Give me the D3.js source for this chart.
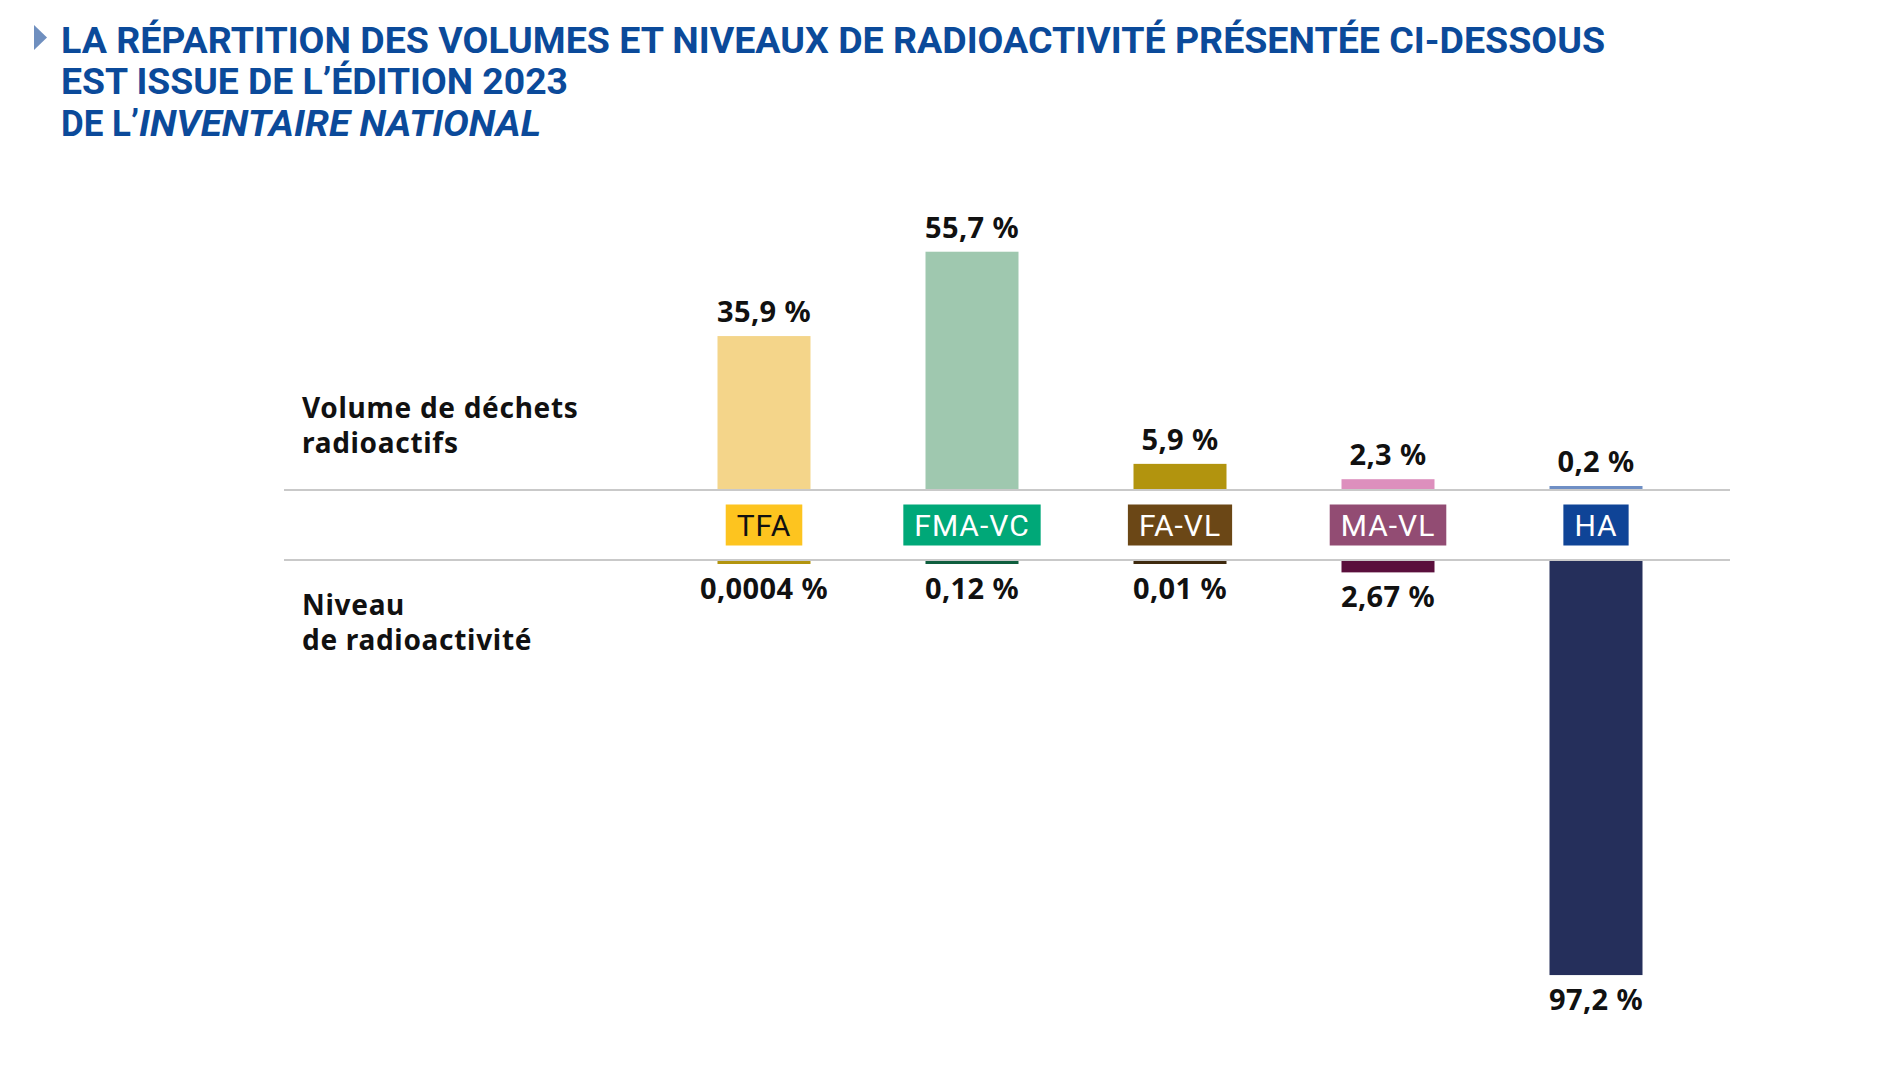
<!DOCTYPE html>
<html>
<head>
<meta charset="utf-8">
<script src="https://cdn.jsdelivr.net/npm/d3@7"></script>
<style>
  body { margin: 0; background: #fff; }
  svg { display: block; }
</style>
</head>
<body>
<div id="chart"></div>
<script>
var width = 1897,
  height = 1068;

// data
var categories = ["TFA", "FMA-VC", "FA-VL", "MA-VL", "HA"];
var volume = [35.9, 55.7, 5.9, 2.3, 0.2];
var volumeLabels = ["35,9 %", "55,7 %", "5,9 %", "2,3 %", "0,2 %"];
var activity = [0.0004, 0.12, 0.01, 2.67, 97.2];
var activityLabels = ["0,0004 %", "0,12 %", "0,01 %", "2,67 %", "97,2 %"];
var boxColors = ["#fdc41f", "#00a878", "#6b4716", "#924c73", "#0f4497"];
var boxText = ["#111", "#fff", "#fff", "#fff", "#fff"];
var topColors = ["#f4d58a", "#9fc8af", "#b2940e", "#dd8fbd", "#6f8fc5"];
var bottomColors = ["#b2940e", "#0e5e3e", "#3f2a0e", "#5a0f3c", "#252f5b"];

var topLine = 490,
  bottomLine = 560,
  barWidth = 93,
  minBar = 3;

var svg = d3.select("#chart").append("svg")
  .attr("width", width)
  .attr("height", height);

svg.append("rect").attr("width", width).attr("height", height).attr("fill", "#fff");

// title
var blue = "#0b4a9a";
svg.append("path")
  .attr("d", "M34,25 L47,37.5 L34,50 Z")
  .attr("fill", "#6f8fbf");

var titleFont = "Roboto, 'Liberation Sans', sans-serif";
svg.append("text")
  .attr("x", 61).attr("y", 53)
  .attr("textLength", 1544).attr("lengthAdjust", "spacingAndGlyphs")
  .style("font-family", titleFont).style("font-weight", 700).style("font-size", "37px")
  .attr("fill", blue)
  .text("LA RÉPARTITION DES VOLUMES ET NIVEAUX DE RADIOACTIVITÉ PRÉSENTÉE CI-DESSOUS");
svg.append("text")
  .attr("x", 61).attr("y", 94)
  .attr("textLength", 507).attr("lengthAdjust", "spacingAndGlyphs")
  .style("font-family", titleFont).style("font-weight", 700).style("font-size", "37px")
  .attr("fill", blue)
  .text("EST ISSUE DE L’ÉDITION 2023");
svg.append("text")
  .attr("x", 61).attr("y", 136)
  .attr("textLength", 78).attr("lengthAdjust", "spacingAndGlyphs")
  .style("font-family", titleFont).style("font-weight", 700).style("font-size", "37px")
  .attr("fill", blue)
  .text("DE L’");
svg.append("text")
  .attr("x", 139).attr("y", 136)
  .attr("textLength", 402).attr("lengthAdjust", "spacingAndGlyphs")
  .style("font-family", titleFont).style("font-weight", 700).style("font-style", "italic").style("font-size", "37px")
  .attr("fill", blue)
  .text("INVENTAIRE NATIONAL");

// scales
var x = d3.scalePoint().domain(categories).range([764, 1596]);
var y = d3.scaleLinear().domain([0, 100]).range([0, 426]);
var idx = d3.range(categories.length);

// guide lines
svg.selectAll(".guide")
  .data([topLine, bottomLine])
  .enter().append("line")
  .attr("class", "guide")
  .attr("x1", 284).attr("x2", 1730)
  .attr("y1", d => d).attr("y2", d => d)
  .attr("stroke", "#c9c9c9").attr("stroke-width", 2);

var labelFont = "'Noto Sans', 'Open Sans', sans-serif";

// row labels
var rows = [
  { lines: ["Volume de déchets", "radioactifs"], y: 418 },
  { lines: ["Niveau", "de radioactivité"], y: 615 }
];
rows.forEach(function (r) {
  r.lines.forEach(function (t, i) {
    svg.append("text")
      .attr("x", 302).attr("y", r.y + i * 35)
      .style("font-family", labelFont).style("font-weight", 700).style("font-size", "28px")
      .style("letter-spacing", "0.7px")
      .attr("fill", "#111")
      .text(t);
  });
});

// volume bars (up)
svg.selectAll(".vol")
  .data(idx)
  .enter().append("rect")
  .attr("class", "vol")
  .attr("x", i => x(categories[i]) - barWidth / 2)
  .attr("width", barWidth)
  .attr("y", i => topLine - 1 - Math.max(minBar, y(volume[i])))
  .attr("height", i => Math.max(minBar, y(volume[i])))
  .attr("fill", i => topColors[i]);

svg.selectAll(".volLabel")
  .data(idx)
  .enter().append("text")
  .attr("class", "volLabel")
  .attr("x", i => x(categories[i]))
  .attr("y", i => topLine - 1 - Math.max(minBar, y(volume[i])) - 14)
  .attr("text-anchor", "middle")
  .style("font-family", labelFont).style("font-weight", 700).style("font-size", "29px")
  .style("letter-spacing", "0.4px")
  .attr("fill", "#111")
  .text(i => volumeLabels[i]);

// activity bars (down)
svg.selectAll(".act")
  .data(idx)
  .enter().append("rect")
  .attr("class", "act")
  .attr("x", i => x(categories[i]) - barWidth / 2)
  .attr("width", barWidth)
  .attr("y", bottomLine + 1)
  .attr("height", i => Math.max(minBar, y(activity[i])))
  .attr("fill", i => bottomColors[i]);

svg.selectAll(".actLabel")
  .data(idx)
  .enter().append("text")
  .attr("class", "actLabel")
  .attr("x", i => x(categories[i]))
  .attr("y", i => bottomLine + 1 + Math.max(minBar, y(activity[i])) + 35)
  .attr("text-anchor", "middle")
  .style("font-family", labelFont).style("font-weight", 700).style("font-size", "29px")
  .style("letter-spacing", "0.4px")
  .attr("fill", "#111")
  .text(i => activityLabels[i]);

// category boxes
var boxes = svg.selectAll(".box")
  .data(idx)
  .enter().append("g")
  .attr("class", "box")
  .attr("transform", i => "translate(" + x(categories[i]) + "," + (topLine + bottomLine) / 2 + ")");

boxes.append("rect").attr("fill", i => boxColors[i]);
boxes.append("text")
  .attr("text-anchor", "middle")
  .attr("dy", "0.36em")
  .style("font-family", "Roboto, sans-serif").style("font-weight", 400).style("font-size", "30px")
  .style("letter-spacing", "1px")
  .attr("fill", i => boxText[i])
  .text(i => categories[i]);

boxes.each(function () {
  var g = d3.select(this);
  var w = g.select("text").node().getComputedTextLength() + 22;
  g.select("rect")
    .attr("x", -w / 2).attr("y", -20.5)
    .attr("width", w).attr("height", 41);
});
</script>
</body>
</html>
